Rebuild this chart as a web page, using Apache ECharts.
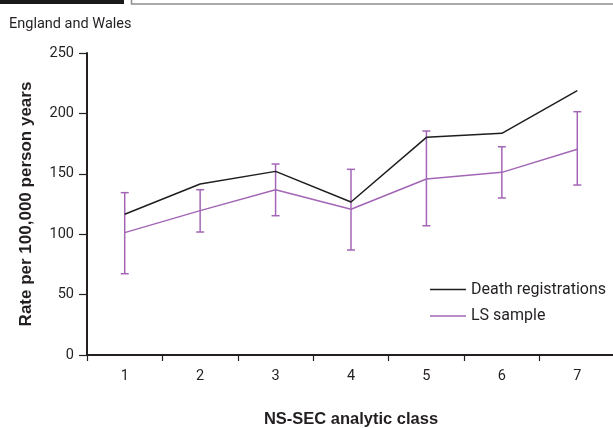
<!DOCTYPE html>
<html>
<head>
<meta charset="utf-8">
<script src="https://cdn.jsdelivr.net/npm/echarts@6/dist/echarts.min.js"></script>
<style>html,body{margin:0;padding:0;background:#fff}#chart{width:613px;height:428px}</style>
</head>
<body>
<div id="chart"></div>
<script>
var categories = ['1', '2', '3', '4', '5', '6', '7'];
var deathRegistrations = [116.5, 141.6, 152, 126.7, 180.2, 183.5, 218.8];
var lsSample = [101.3, 119.5, 136.8, 120.6, 145.7, 151.2, 170.3];
var lsLower = [67.3, 101.8, 115.3, 86.9, 107, 130, 140.7];
var lsUpper = [134.4, 136.8, 158.1, 153.7, 185.4, 172.4, 201.4];
var yTicks = [0, 50, 100, 150, 200, 250];

var TEXT = '#231f20';
var PURPLE = '#a366b6';
var BLACK = '#1e1e1e';
var SANS = 'Roboto, "Liberation Sans", sans-serif';
var BOLD = '"Liberation Sans", Arial, sans-serif';

var errData = categories.map(function (c, i) { return [i, lsLower[i], lsUpper[i]]; });

var chart = echarts.init(document.getElementById('chart'), null, {renderer: 'canvas'});
chart.setOption({
  animation: false,
  backgroundColor: '#fff',
  graphic: [
    {type: 'rect', shape: {x: 0, y: 0, width: 124, height: 4}, style: {fill: '#1a1a1a'}},
    {type: 'rect', shape: {x: 131.5, y: -10, width: 500, height: 14}, style: {fill: '#fff', stroke: '#8f8f8f', lineWidth: 1.5}},
    {type: 'text', x: 9, y: 24.5, style: {text: 'England and Wales', font: '14.5px ' + SANS, fill: TEXT, verticalAlign: 'middle'}}
  ],
  grid: {left: 87, right: -2, top: 53, bottom: 73, containLabel: false, outerBoundsMode: 'none'},
  legend: {
    orient: 'vertical', left: 425, top: 275.5,
    itemWidth: 36, itemHeight: 1.5, itemGap: 8.5,
    textStyle: {fontFamily: SANS, fontSize: 16, color: TEXT, lineHeight: 18},
    data: [{name: 'Death registrations', icon: 'rect'}, {name: 'LS sample', icon: 'rect'}]
  },
  xAxis: {
    type: 'category', data: categories, boundaryGap: true,
    name: 'NS-SEC analytic class', nameLocation: 'middle', nameGap: 56,
    nameTextStyle: {fontFamily: BOLD, fontWeight: 'bold', fontSize: 16.5, color: TEXT},
    axisLine: {lineStyle: {color: TEXT, width: 2}},
    axisTick: {show: true, length: 6, alignWithLabel: false, lineStyle: {color: TEXT, width: 1.2}},
    axisLabel: {fontFamily: SANS, fontSize: 14.5, color: TEXT, margin: 14},
    splitLine: {show: false}
  },
  yAxis: {
    type: 'value', min: yTicks[0], max: yTicks[yTicks.length - 1], interval: 50,
    name: 'Rate per 100,000 person years', nameLocation: 'middle', nameGap: 52,
    nameTextStyle: {fontFamily: BOLD, fontWeight: 'bold', fontSize: 17, color: TEXT},
    axisLine: {show: true, lineStyle: {color: TEXT, width: 2}},
    axisTick: {show: true, length: 8, lineStyle: {color: TEXT, width: 1.2}},
    axisLabel: {fontFamily: SANS, fontSize: 14.5, color: TEXT, margin: 13},
    splitLine: {show: false}
  },
  series: [
    {
      name: 'Death registrations', type: 'line', data: deathRegistrations,
      symbol: 'none', color: BLACK, lineStyle: {color: BLACK, width: 1.5}, z: 3
    },
    {
      name: 'LS sample', type: 'line', data: lsSample,
      symbol: 'none', color: PURPLE, lineStyle: {color: PURPLE, width: 1.5}, z: 3
    },
    {
      name: 'LS error', type: 'custom', data: errData,
      encode: {x: 0, y: [1, 2]}, z: 2,
      renderItem: function (params, api) {
        var x = api.value(0);
        var lo = api.coord([x, api.value(1)]);
        var hi = api.coord([x, api.value(2)]);
        var hw = 4;
        var st = {stroke: PURPLE, lineWidth: 1.5, fill: null};
        return {
          type: 'group',
          children: [
            {type: 'line', shape: {x1: lo[0], y1: lo[1], x2: hi[0], y2: hi[1]}, style: st},
            {type: 'line', shape: {x1: lo[0] - hw, y1: lo[1], x2: lo[0] + hw, y2: lo[1]}, style: st},
            {type: 'line', shape: {x1: hi[0] - hw, y1: hi[1], x2: hi[0] + hw, y2: hi[1]}, style: st}
          ]
        };
      }
    }
  ]
});
</script>
</body>
</html>
